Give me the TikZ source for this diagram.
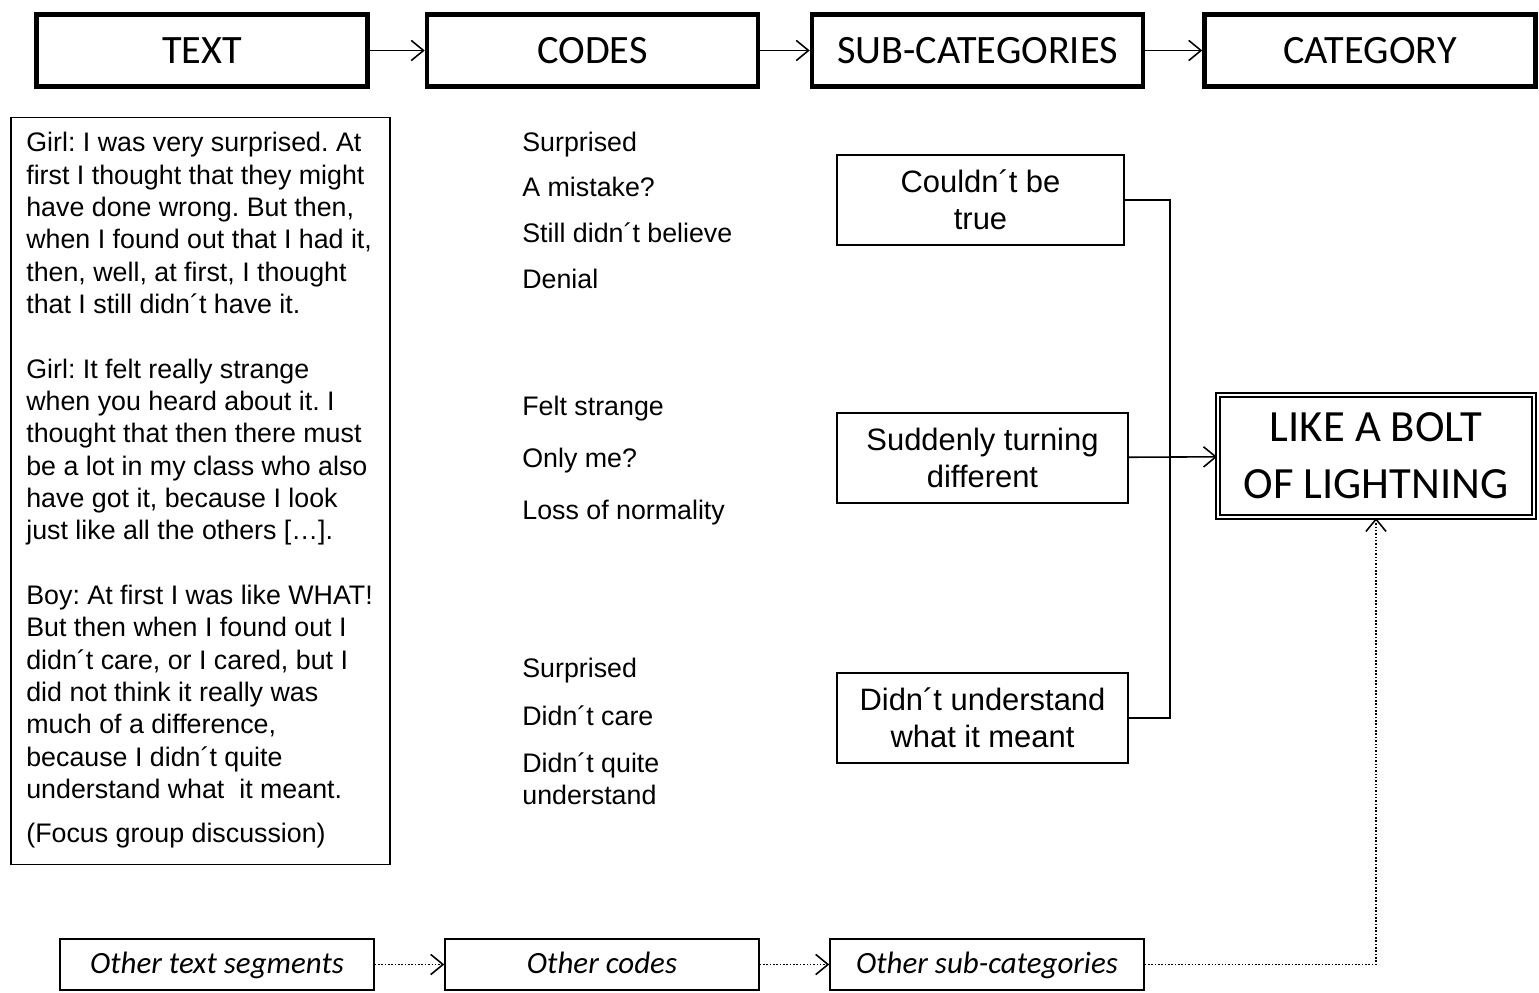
\documentclass[tikz,border=0pt]{standalone}
\usepackage{fontspec}
\setmainfont{Liberation Sans}
\newfontfamily\calfont{Carlito}
\usetikzlibrary{arrows.meta}
\frenchspacing

\tikzset{
  headbox/.style={draw, line width=2.6pt, minimum width=6.62cm, minimum height=1.44cm,
    font=\calfont\fontsize{22.9}{27}\selectfont},
  subbox/.style={draw, line width=1pt, minimum height=1.8cm, align=center,
    font=\fontsize{17.6}{21}\selectfont},
  codeitem/.style={anchor=west, inner sep=0pt, text height=11.4pt, text depth=3.4pt,
    font=\fontsize{15.25}{18.4}\selectfont},
  otherbox/.style={draw, line width=0.9pt, minimum width=6.28cm, minimum height=1.02cm,
    text height=14.6pt, text depth=3.9pt,
    font=\calfont\itshape\fontsize{17.6}{21}\selectfont},
  flow/.style={-{Straight Barb[length=7pt,width=11.5pt]}, line width=0.9pt},
  dotflow/.style={flow, densely dotted},
}

\begin{document}
\begin{tikzpicture}[x=0.02cm, y=-0.02cm]
    \useasboundingbox (0,0) rectangle (1539,993);

    % Headers
    \node[headbox] (text) at (202,50.5) {TEXT};
    \node[headbox] (codes) at (592.5,50.5) {CODES};
    \node[headbox] (subcat) at (977.5,50.5) {SUB-CATEGORIES};
    \node[headbox] (cat) at (1370,50.5) {CATEGORY};
    \draw[flow] (text) -- (codes);
    \draw[flow] (codes) -- (subcat);
    \draw[flow] (subcat) -- (cat);

    % Interview text
    \node[draw, line width=0.8pt, minimum width=7.58cm, minimum height=14.94cm] (talkbox) at (200.5,491) {};
    \node[anchor=north west, inner sep=0pt, align=left, font=\fontsize{15.25}{18.4}\selectfont] (talk) at (26,132)
      {Girl: I was very surprised. At\\
       first I thought that they might\\
       have done wrong. But then,\\
       when I found out that I had it,\\
       then, well, at first, I thought\\
       that I still didn´t have it.\\[18.4pt]
       Girl: It felt really strange\\
       when you heard about it. I\\
       thought that then there must\\
       be a lot in my class who also\\
       have got it, because I look\\
       just like all the others […].\\[18.4pt]
       Boy: At first I was like WHAT!\\
       But then when I found out I\\
       didn´t care, or I cared, but I\\
       did not think it really was\\
       much of a difference,\\
       because I didn´t quite\\
       understand what~ it meant.\\[6.5pt]
       (Focus group discussion)};

    % Codes
    \node[codeitem] (c1) at (522,144) {Surprised};
    \node[codeitem] (c2) at (522,189) {A mistake?};
    \node[codeitem] (c3) at (522,235) {Still didn´t believe};
    \node[codeitem] (c4) at (522,281) {Denial};
    \node[codeitem] (c5) at (522,408) {Felt strange};
    \node[codeitem] (c6) at (522,460) {Only me?};
    \node[codeitem] (c7) at (522,512) {Loss of normality};
    \node[codeitem] (c8) at (522,670) {Surprised};
    \node[codeitem] (c9) at (522,718) {Didn´t care};
    \node[anchor=west, inner sep=0pt, align=left, font=\fontsize{15.25}{18.4}\selectfont] (c10) at (522,779)
      {Didn´t quite\\understand};

    % Sub-categories
    \node[subbox, minimum width=5.74cm] (cbt) at (980.5,200) {Couldn´t be\\true};
    \node[subbox, minimum width=5.82cm] (std) at (982.5,458) {Suddenly turning\\different};
    \node[subbox, minimum width=5.82cm] (dwm) at (982.5,718) {Didn´t understand\\what it meant};

    % Category
    \node[draw, double, line width=1.1pt, double distance=1.5pt, minimum width=6.32cm, minimum height=2.44cm,
      align=center, font=\calfont\fontsize{25.4}{32.4}\selectfont] (bolt) at (1376,456)
      {LIKE A BOLT\\OF LIGHTNING};
    \coordinate (bus) at (1170,457);
    \draw[line width=0.8pt] (cbt.east) -| (bus) |- (dwm.east);
    \draw[flow] (std) -- (bolt);

    % Other segments
    \node[otherbox] (ots) at (217,964.5) {Other text segments};
    \node[otherbox] (oc) at (602,964.5) {Other codes};
    \node[otherbox] (osc) at (987,964.5) {Other sub-categories};
    \draw[dotflow] (ots) -- (oc);
    \draw[dotflow] (oc) -- (osc);
    \draw[dotflow] (osc.east) -| (bolt.south);
\end{tikzpicture}
\end{document}
